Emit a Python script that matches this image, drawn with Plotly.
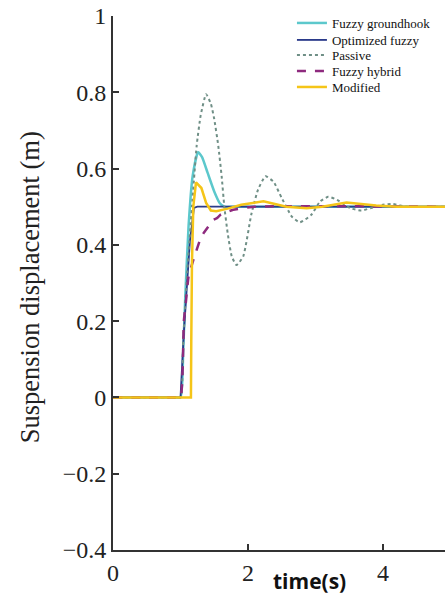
import plotly.graph_objects as go

# ---- data ----
t_groundhook = [0, 0.5, 0.9, 1.0, 1.04, 1.07, 1.12, 1.18, 1.26, 1.32, 1.40, 1.50, 1.58, 1.65, 1.80, 4.92]
y_groundhook = [0, 0, 0, 0, 0.12, 0.26, 0.45, 0.58, 0.643, 0.63, 0.59, 0.54, 0.51, 0.50, 0.50, 0.50]

t_optimized = [0, 1.0, 1.05, 1.10, 1.14, 1.20, 1.25, 4.92]
y_optimized = [0, 0, 0.17, 0.32, 0.41, 0.497, 0.50, 0.50]

t_passive = [0, 0.5, 0.9, 1.0, 1.04, 1.10, 1.17, 1.24, 1.30, 1.38, 1.45, 1.50, 1.56, 1.61, 1.65, 1.70,
             1.76, 1.83, 1.93, 2.05, 2.15, 2.26, 2.38, 2.50, 2.65, 2.77, 2.94, 3.07, 3.19,
             3.32, 3.52, 3.68, 3.85, 4.00, 4.15, 4.35, 4.92]
y_passive = [0, 0, 0, 0, 0.15, 0.33, 0.50, 0.66, 0.74, 0.795, 0.77, 0.73, 0.66, 0.58, 0.50, 0.43,
             0.37, 0.347, 0.37, 0.48, 0.545, 0.58, 0.565, 0.523, 0.474, 0.459, 0.479, 0.514, 0.526,
             0.518, 0.496, 0.49, 0.498, 0.505, 0.507, 0.50, 0.50]

t_hybrid = [0, 0.5, 0.9, 1.0, 1.05, 1.08, 1.12, 1.19, 1.29, 1.34, 1.40, 1.49, 1.54, 1.60, 1.78, 2.10, 4.92]
y_hybrid = [0, 0, 0, 0, 0.20, 0.25, 0.317, 0.36, 0.413, 0.43, 0.445, 0.466, 0.47, 0.48, 0.492, 0.50, 0.50]

t_modified = [0, 1.155, 1.16, 1.17, 1.19, 1.23, 1.31, 1.38, 1.45, 1.53, 1.70, 1.90, 2.23, 2.40,
              2.57, 2.87, 3.10, 3.46, 3.70, 3.90, 4.20, 4.92]
y_modified = [0, 0, 0.15, 0.35, 0.50, 0.564, 0.549, 0.51, 0.49, 0.488, 0.495, 0.505, 0.514, 0.508,
              0.50, 0.496, 0.50, 0.511, 0.507, 0.503, 0.50, 0.50]

series_names = ["Fuzzy groundhook", "Optimized fuzzy", "Passive", "Fuzzy hybrid", "Modified"]
y_tickvals = [-0.4, -0.2, 0, 0.2, 0.4, 0.6, 0.8, 1.0]
y_ticktext = ["\u22120.4", "\u22120.2", "0", "0.2", "0.4", "0.6", "0.8", "1"]
x_tickvals = [0, 2, 4]
x_ticktext = ["0", "2", "4"]

fig = go.Figure()
fig.add_trace(go.Scatter(x=t_groundhook, y=y_groundhook, name=series_names[0], mode="lines",
                         legend="legend",
                         line=dict(color="#5cc8cc", width=2.5, shape="spline", smoothing=0.5)))
fig.add_trace(go.Scatter(x=t_optimized, y=y_optimized, name=series_names[1], mode="lines",
                         legend="legend2",
                         line=dict(color="#2a3a8a", width=1.8)))
fig.add_trace(go.Scatter(x=t_passive, y=y_passive, name=series_names[2], mode="lines",
                         legend="legend3",
                         line=dict(color="#6f8f86", width=2, dash="dot", shape="spline", smoothing=0.5)))
fig.add_trace(go.Scatter(x=t_hybrid, y=y_hybrid, name=series_names[3], mode="lines",
                         legend="legend4",
                         line=dict(color="#8e2a7e", width=2.5, dash="dash", shape="spline", smoothing=0.4)))
fig.add_trace(go.Scatter(x=t_modified, y=y_modified, name=series_names[4], mode="lines",
                         legend="legend5",
                         line=dict(color="#f5c518", width=2.5)))

legend_font = dict(family="Liberation Serif", size=13, color="#111")
legend_rows = [0.9869, 0.9551, 0.9270, 0.8970, 0.8670]


def legend_box(yv):
    return dict(x=0.539, y=yv, xanchor="left", yanchor="middle", font=legend_font,
                bgcolor="rgba(0,0,0,0)", itemwidth=30)


axis_font = dict(family="Liberation Serif", size=24, color="#222")
fig.update_layout(
    width=445, height=594,
    margin=dict(l=113, r=0, t=16, b=44),
    paper_bgcolor="white", plot_bgcolor="white",
    showlegend=True,
    legend=legend_box(legend_rows[0]),
    legend2=legend_box(legend_rows[1]),
    legend3=legend_box(legend_rows[2]),
    legend4=legend_box(legend_rows[3]),
    legend5=legend_box(legend_rows[4]),
    xaxis=dict(range=[0, 4.92], tickvals=x_tickvals, ticktext=x_ticktext,
               showline=True, linecolor="#333", linewidth=2, showgrid=False, zeroline=False,
               ticks="inside", ticklen=6, tickwidth=1.5, tickcolor="#333",
               tickfont=axis_font),
    yaxis=dict(range=[-0.4, 1.0], tickvals=y_tickvals, ticktext=y_ticktext,
               showline=True, linecolor="#333", linewidth=2, showgrid=False, zeroline=False,
               ticks="inside", ticklen=6, tickwidth=1.5, tickcolor="#333",
               tickfont=axis_font),
    annotations=[
        dict(text="Suspension displacement (m)", xref="paper", yref="paper",
             x=0, y=0.492, xshift=-83, textangle=-90, showarrow=False,
             xanchor="center", yanchor="middle",
             font=dict(family="Liberation Serif", size=26.5, color="#222")),
        dict(text="<b>time(s)</b>", xref="paper", yref="paper",
             x=0.593, y=0, yshift=-31, showarrow=False,
             xanchor="center", yanchor="middle",
             font=dict(family="Open Sans", size=21, color="#111")),
    ],
)

fig.write_html("out.html", config={"displayModeBar": False})

# remove the browser's default page margin so the figure sits at the window origin
with open("out.html", "r", encoding="utf-8") as f:
    html = f.read()
html = html.replace("<head>", "<head><style>html,body{margin:0;padding:0;overflow:hidden;}</style>", 1)
with open("out.html", "w", encoding="utf-8") as f:
    f.write(html)
